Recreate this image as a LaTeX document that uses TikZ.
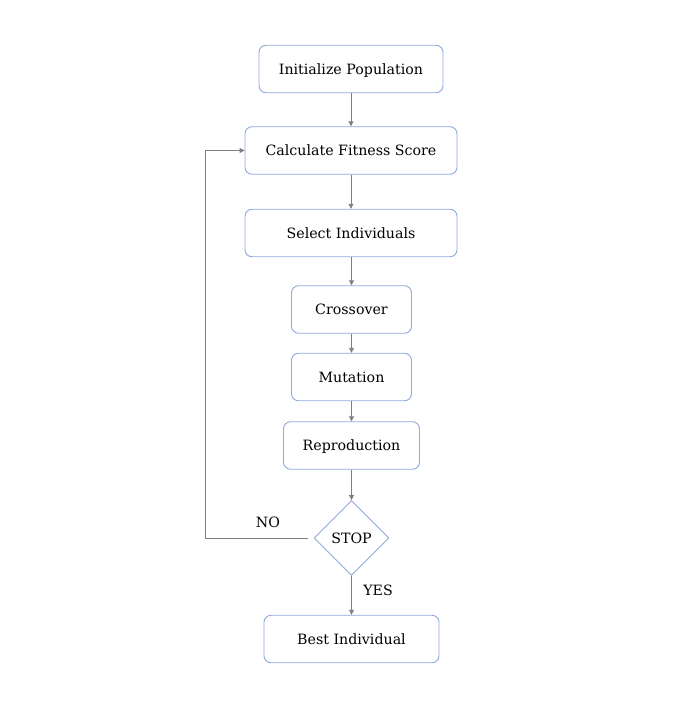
\documentclass[tikz,border=0pt]{standalone}
\usepackage{fontspec}
\setmainfont{DejaVu Serif}
\usetikzlibrary{shapes.geometric,arrows.meta}
\definecolor{boxblue}{HTML}{8EA9DB}
\definecolor{linegray}{HTML}{7F7F7F}
\tikzset{
  txt/.style={font=\fontsize{14.2}{17}\selectfont, text height=10.3pt, text depth=0pt},
  procbox/.style={txt, draw=boxblue, line width=0.9pt, rounded corners=7pt, fill=white,
    minimum height=47.5pt, inner sep=0pt},
  decbox/.style={draw=boxblue, line width=0.9pt, diamond, aspect=1, minimum width=75pt,
    minimum height=75pt, inner sep=0pt, font=\fontsize{14.2}{17}\selectfont},
  conn/.style={draw=linegray, line width=0.9pt, -{Triangle[length=5pt,width=5pt]}},
  lbl/.style={txt, inner sep=0pt}
}
\begin{document}
\begin{tikzpicture}[x=1pt,y=-1pt]
\useasboundingbox (0,0) rectangle (681,725);
\node[procbox, minimum width=184pt] (init) at (351,69) {Initialize Population};
\node[procbox, minimum width=212pt] (fit) at (351,150.5) {Calculate Fitness Score};
\node[procbox, minimum width=212pt] (sel) at (351,233) {Select Individuals};
\node[procbox, minimum width=120pt] (cross) at (351.5,309.5) {Crossover};
\node[procbox, minimum width=120pt] (mut) at (351.5,377) {Mutation};
\node[procbox, minimum width=136pt] (rep) at (351.5,445.5) {Reproduction};
\node[decbox] (stop) at (351.5,538) {STOP};
\node[procbox, minimum width=175pt] (best) at (351.5,639) {Best Individual};
\coordinate (c1) at (205,538);
\coordinate (c2) at (205,150.5);
\draw[conn] (init) -- (fit);
\draw[conn] (fit) -- (sel);
\draw[conn] (sel.south -| cross.north) -- (cross);
\draw[conn] (cross) -- (mut);
\draw[conn] (mut) -- (rep);
\draw[conn] (rep) -- (stop);
\draw[conn] (stop) -- (best);
\draw[conn] ([xshift=-6pt]stop.west) -- (c1) -- (c2) -- (fit.west);
\node[lbl] (yeslbl) at (378,590) {YES};
\node[lbl] (nolbl) at (268,522) {NO};
\end{tikzpicture}
\end{document}
